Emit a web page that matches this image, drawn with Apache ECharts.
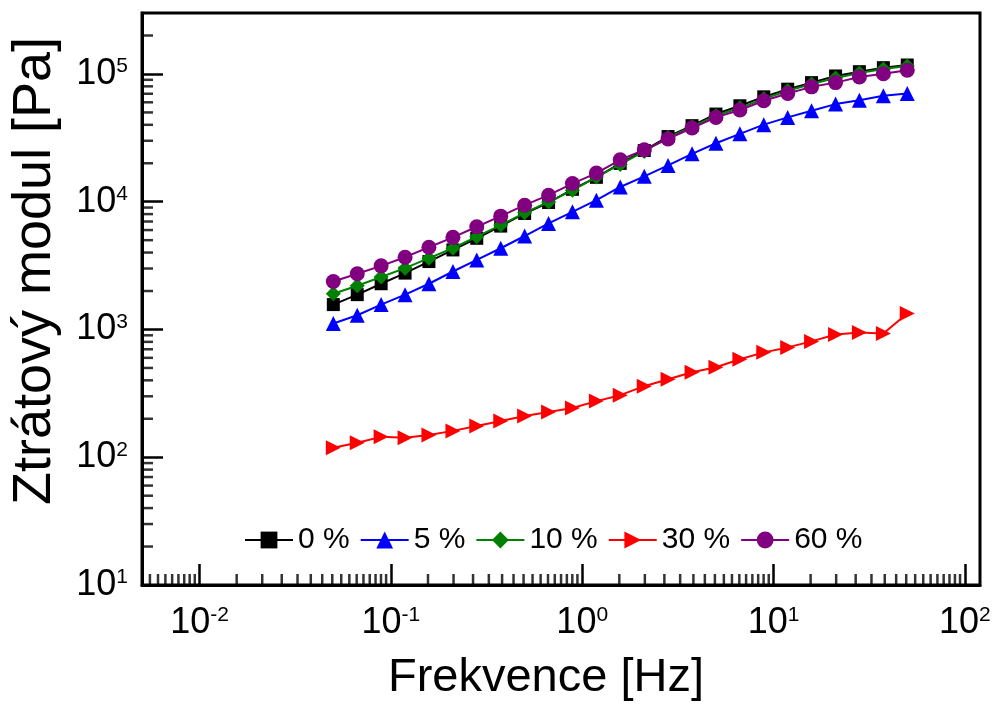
<!DOCTYPE html>
<html>
<head>
<meta charset="utf-8">
<script src="https://cdn.jsdelivr.net/npm/echarts@6/dist/echarts.min.js"></script>
<style>html,body{margin:0;padding:0;background:#fff}#c{width:999px;height:707px}</style>
</head>
<body>
<div id="c"></div>
<script>
// Frequencies [Hz]
var freq = [0.05, 0.0667, 0.0889, 0.1186, 0.158, 0.211, 0.281, 0.375, 0.5, 0.667, 0.889, 1.186, 1.58, 2.11, 2.81, 3.75, 5, 6.67, 8.89, 11.86, 15.8, 21.1, 28.1, 37.5, 50];
var seriesNames = ['0 %', '5 %', '10 %', '30 %', '60 %'];
var s0 = [1566, 1873, 2280, 2762, 3401, 4194, 5173, 6446, 8091, 9856, 12500, 15520, 19950, 25180, 32360, 39390, 48550, 56360, 66220, 76030, 85540, 96420, 104200, 112000, 117500];
var s5 = [1113, 1292, 1566, 1873, 2280, 2843, 3505, 4324, 5390, 6768, 8336, 10280, 13040, 15790, 19230, 23700, 28700, 33970, 40110, 45700, 51530, 58080, 62380, 67480, 70330];
var s10 = [1905, 2199, 2572, 3020, 3614, 4324, 5323, 6566, 8184, 9960, 12280, 15600, 19590, 24730, 31770, 38700, 47100, 54320, 63870, 73800, 83530, 93090, 101800, 109400, 115400];
var s30 = [118.6, 129.7, 144.4, 141.8, 149.6, 160.8, 175.8, 192.3, 210.4, 226, 242.8, 275, 306, 360, 408, 462, 506, 584, 662, 724, 807, 914, 948, 931, 1334];
var s60 = [2377, 2729, 3148, 3679, 4404, 5263, 6366, 7709, 9393, 11250, 13870, 16760, 21290, 25470, 31030, 37780, 45710, 52220, 61660, 70330, 79270, 85540, 94800, 100500, 106900];
// Minor tick positions: x axis has 15 linear minor ticks per decade, y axis 2..9
var xMinorMult = [1.5625, 2.125, 2.6875, 3.25, 3.8125, 4.375, 4.9375, 5.5, 6.0625, 6.625, 7.1875, 7.75, 8.3125, 8.875, 9.4375];
var xDecades = [0.001, 0.01, 0.1, 1, 10, 100];
var yMinorMult = [2, 3, 4, 5, 6, 7, 8, 9];
var yDecades = [10, 100, 1000, 10000, 100000];
var xMin = 0.005, xMax = 120, yMin = 10, yMax = 300000;

function minorList(decs, mults, lo, hi) {
  var out = [];
  decs.forEach(function (d) { mults.forEach(function (m) { var v = d * m; if (v > lo * 1.0001 && v < hi * 0.9999) out.push(v); }); });
  return out;
}
var xMinorTicks = minorList(xDecades, xMinorMult, xMin, xMax);
var yMinorTicks = minorList(yDecades, yMinorMult, yMin, yMax);

var FONT = 'Liberation Sans, Arial, sans-serif';
function powLabel(v) {
  var e = Math.log10(v);
  var r = Math.round(e);
  if (Math.abs(e - r) > 1e-6) return '';
  return '{b|10}{s|' + r + '}';
}
var richLab = {
  b: {fontSize: 36, fontFamily: FONT, color: '#000', lineHeight: 36},
  s: {fontSize: 21, fontFamily: FONT, color: '#000', verticalAlign: 'top', lineHeight: 21}
};
function pairs(ys) { return freq.map(function (f, i) { return [f, ys[i]]; }); }
var colors = ['#000000', '#0000ff', '#008000', '#ff0000', '#800080'];
var symbols = ['rect', 'triangle', 'diamond', 'triangle', 'circle'];
var rots = [0, 0, 0, -90, 0];
var sizes = [13, 15, 15, 15, 15];
var data = [s0, s5, s10, s30, s60];

var series = data.map(function (d, i) {
  return {
    name: seriesNames[i], type: 'line', data: pairs(d),
    symbol: symbols[i], symbolSize: sizes[i], symbolRotate: rots[i],
    showAllSymbol: true,
    lineStyle: {color: colors[i], width: 2},
    itemStyle: {color: colors[i]},
    z: 3 + i
  };
});
// minor tick marks drawn as thin rect symbols on the axes
series.push({
  type: 'scatter', silent: true, z: 10, clip: false,
  data: xMinorTicks.map(function (v) { return [v, yMin]; }),
  symbol: 'rect', symbolSize: [2.5, 11], symbolOffset: [0, -5.5],
  itemStyle: {color: '#000'}
});
series.push({
  type: 'scatter', silent: true, z: 10, clip: false,
  data: yMinorTicks.map(function (v) { return [xMin, v]; }),
  symbol: 'rect', symbolSize: [11, 2.5], symbolOffset: [5.5, 0],
  itemStyle: {color: '#000'}
});

var chart = echarts.init(document.getElementById('c'), null, {renderer: 'canvas'});
chart.setOption({
  animation: false,
  backgroundColor: '#fff',
  grid: {left: 141, right: 19, top: 13, bottom: 120, show: true, borderColor: '#000', borderWidth: 3, containLabel: false},
  legend: {
    data: seriesNames, left: 239, top: 520, itemWidth: 48, itemHeight: 21, itemGap: 10,
    textStyle: {fontSize: 30, fontFamily: FONT, color: '#000'}
  },
  xAxis: {
    type: 'log', logBase: 10, min: xMin, max: xMax, splitNumber: 5,
    name: 'Frekvence [Hz]', nameLocation: 'middle', nameGap: 70,
    nameTextStyle: {fontSize: 47, fontFamily: FONT, color: '#000', padding: [0, 30, 0, 0]},
    axisLine: {show: true, onZero: false, lineStyle: {color: '#000', width: 3}},
    axisTick: {show: true, inside: true, length: 21, lineStyle: {color: '#000', width: 2.5}},
    axisLabel: {formatter: powLabel, rich: richLab, margin: 20, showMinLabel: false, showMaxLabel: false},
    splitLine: {show: false}
  },
  yAxis: {
    type: 'log', logBase: 10, min: yMin, max: yMax, splitNumber: 5,
    name: 'Ztrátový modul [Pa]', nameLocation: 'middle', nameGap: 80,
    nameTextStyle: {fontSize: 54, fontFamily: FONT, color: '#000', padding: [0, 0, 0, 56]},
    axisLine: {show: true, onZero: false, lineStyle: {color: '#000', width: 3}},
    axisTick: {show: true, inside: true, length: 21, lineStyle: {color: '#000', width: 2.5}},
    axisLabel: {formatter: powLabel, rich: richLab, margin: 14, showMaxLabel: false},
    splitLine: {show: false}
  },
  series: series
});
</script>
</body>
</html>
